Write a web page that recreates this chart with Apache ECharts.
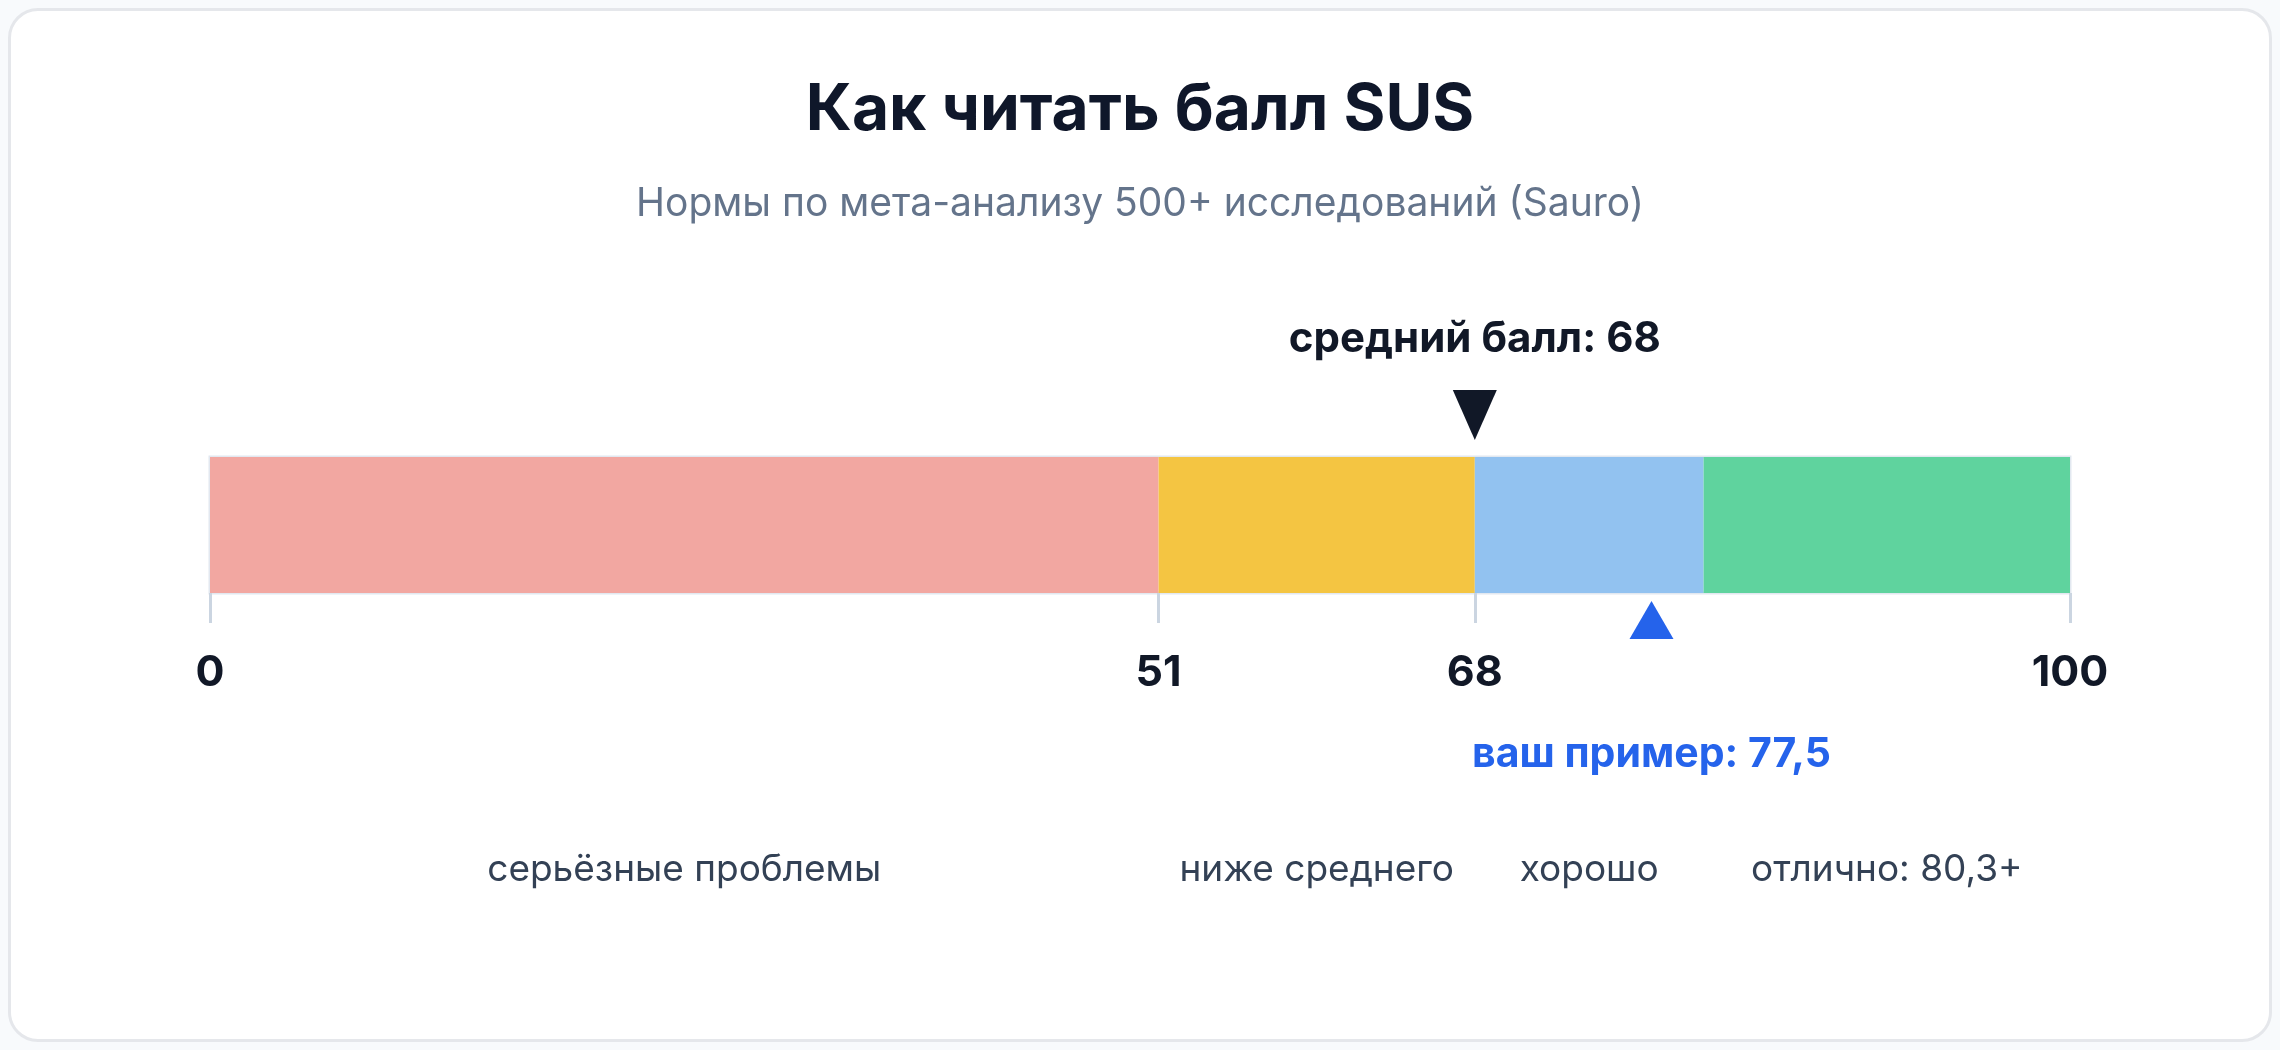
<!DOCTYPE html>
<html>
<head>
<meta charset="utf-8">
<script src="https://cdn.jsdelivr.net/npm/echarts@6/dist/echarts.min.js"></script>
<style>
  html, body { margin: 0; padding: 0; background: #f8fafc; }
  .card {
    position: absolute; left: 8px; top: 8px; width: 2258px; height: 1028px;
    background: #ffffff; border: 3px solid #e5e7eb; border-radius: 30px;
  }
  #chart { position: absolute; left: 0; top: 0; width: 2280px; height: 1050px; }
</style>
</head>
<body>
<div class="card"></div>
<div id="chart"></div>
<script>
// границы зон шкалы SUS
const bounds = [0, 51, 68, 80.3, 100];
const zoneNames = ['серьёзные проблемы', 'ниже среднего', 'хорошо', 'отлично: 80,3+'];
const zoneColors = ['#f2a7a1', '#f4c542', '#92c2f0', '#5fd39e'];
const tickValues = [0, 51, 68, 100];
const averageScore = 68;
const exampleScore = 77.5;

const chart = echarts.init(document.getElementById('chart'));
const font = 'Inter, "Noto Sans", sans-serif';

// каждая зона — отдельный сегмент стека
const series = zoneNames.map((name, i) => ({
  name: name,
  type: 'bar',
  stack: 'sus',
  barWidth: '100%',
  data: [bounds[i + 1] - bounds[i]],
  itemStyle: { color: zoneColors[i] },
  label: {
    show: true,
    position: 'bottom',
    distance: 258,
    formatter: name,
    fontFamily: font,
    fontSize: 37,
    color: '#334155'
  },
  silent: true
}));

// маркеры: средний балл и пример
series[0].markPoint = {
  silent: true,
  data: [
    {
      coord: [averageScore, 0],
      symbol: 'triangle',
      symbolRotate: 180,
      symbolSize: [44, 50],
      symbolOffset: [0, -110],
      itemStyle: { color: '#111827' },
      label: {
        show: true,
        position: 'top',
        distance: 30,
        formatter: 'средний балл: ' + averageScore,
        fontFamily: font,
        fontSize: 42,
        fontWeight: 'bold',
        color: '#111827'
      }
    },
    {
      coord: [exampleScore, 0],
      symbol: 'triangle',
      symbolSize: [44, 38],
      symbolOffset: [0, 95],
      itemStyle: { color: '#2563eb' },
      label: {
        show: true,
        position: 'bottom',
        distance: 95,
        formatter: 'ваш пример: ' + String(exampleScore).replace('.', ','),
        fontFamily: font,
        fontSize: 41,
        fontWeight: 'bold',
        color: '#2563eb'
      }
    }
  ]
};

chart.setOption({
  animation: false,
  title: [
    {
      text: 'Как читать балл SUS',
      left: 'center',
      top: 74,
      textStyle: { fontFamily: font, fontSize: 64, fontWeight: 'bold', color: '#0f172a' }
    },
    {
      text: 'Нормы по мета-анализу 500+ исследований (Sauro)',
      left: 'center',
      top: 180,
      textStyle: { fontFamily: font, fontSize: 39, fontWeight: 'normal', color: '#64748b' }
    }
  ],
  grid: {
    left: 210, right: 210, top: 457, height: 136,
    show: true, borderColor: '#e2e8f0', borderWidth: 3, backgroundColor: 'transparent'
  },
  xAxis: {
    type: 'value',
    min: 0,
    max: 100,
    splitLine: { show: false },
    axisLine: { show: false },
    axisTick: {
      show: true,
      customValues: tickValues,
      length: 30,
      lineStyle: { color: '#cbd5e1', width: 3 }
    },
    axisLabel: {
      customValues: tickValues,
      margin: 59,
      fontFamily: font,
      fontSize: 43,
      fontWeight: 'bold',
      color: '#111827'
    }
  },
  yAxis: {
    type: 'category',
    data: ['SUS'],
    show: false
  },
  series: series
});
</script>
</body>
</html>
